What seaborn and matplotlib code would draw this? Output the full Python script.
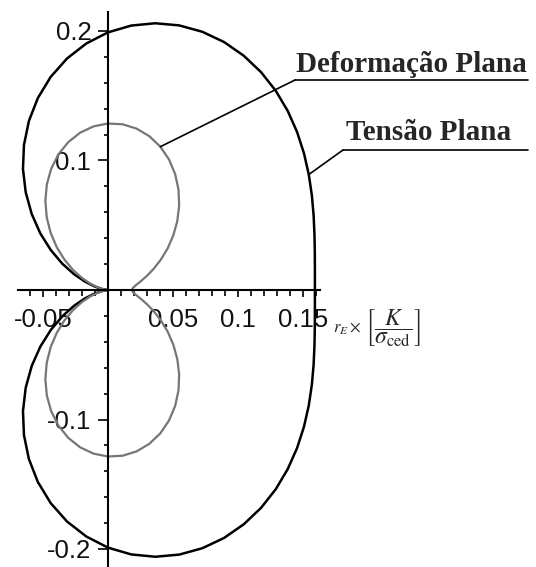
import numpy as np
import pandas as pd
import matplotlib
matplotlib.use("Agg")
import matplotlib.pyplot as plt
import seaborn as sns

# Polar angle of each sample (degrees), upper half of the crack-tip plastic zone
angle_deg = list(range(0, 181, 5))

# Plastic zone radius r_E in units of (K / sigma_ced)^2
r_tensao = [0.15915, 0.15976, 0.16155, 0.16444, 0.16832, 0.17302, 0.17834,
            0.18403, 0.18986, 0.19553, 0.20078, 0.20532, 0.20889, 0.21126,
            0.21220, 0.21154, 0.20916, 0.20497, 0.19894, 0.19110, 0.18153,
            0.17035, 0.15776, 0.14399, 0.12931, 0.11403, 0.09847, 0.08299,
            0.06794, 0.05366, 0.04050, 0.02878, 0.01876, 0.01071, 0.00481,
            0.00121, 0.0]
r_deformacao = [0.01840, 0.01927, 0.02186, 0.02608, 0.03181, 0.03886, 0.04701,
                0.05601, 0.06556, 0.07539, 0.08516, 0.09457, 0.10332, 0.11113,
                0.11775, 0.12295, 0.12656, 0.12846, 0.12857, 0.12686, 0.12337,
                0.11819, 0.11146, 0.10336, 0.09412, 0.08402, 0.07333, 0.06238,
                0.05147, 0.04093, 0.03107, 0.02218, 0.01452, 0.00831, 0.00374,
                0.00094, 0.0]

x_ticks = [-0.05, 0.05, 0.1, 0.15]
x_tick_labels = ["-0.05", "0.05", "0.1", "0.15"]
y_ticks = [-0.2, -0.1, 0.1, 0.2]
y_tick_labels = ["-0.2", "-0.1", "0.1", "0.2"]

label_deformacao = "Deformação Plana"
label_tensao = "Tensão Plana"


def closed_curve(angles, radii):
    """Upper half plus its mirror image below the crack plane."""
    th = np.radians(np.array(angles, dtype=float))
    r = np.array(radii, dtype=float)
    th_full = np.concatenate([th, 2 * np.pi - th[::-1][1:]])
    r_full = np.concatenate([r, r[::-1][1:]])
    return pd.DataFrame({"x": r_full * np.cos(th_full),
                         "y": r_full * np.sin(th_full)})


sns.set_style("white")
plt.rcParams["font.family"] = ["Liberation Sans", "DejaVu Sans"]
plt.rcParams["axes.unicode_minus"] = False
plt.rcParams["mathtext.fontset"] = "stix"

W, H = 536, 567
fig = plt.figure(figsize=(W / 100, H / 100), dpi=100)
ax = fig.add_axes([0, 0, 1, 1])

# data -> pixel mapping: origin at (108, 290), ~1300 px per unit
sx, sy = 1300.0, 1295.0
ox, oy = 108.0, 290.0
ax.set_xlim(-ox / sx, (W - ox) / sx)
ax.set_ylim(-(H - oy) / sy, oy / sy)

ts = closed_curve(angle_deg, r_tensao)
dp = closed_curve(angle_deg, r_deformacao)
sns.lineplot(data=ts, x="x", y="y", sort=False, estimator=None, ax=ax,
             color="black", lw=1.8)
sns.lineplot(data=dp, x="x", y="y", sort=False, estimator=None, ax=ax,
             color="#767676", lw=1.6)
ax.set_xlabel("")
ax.set_ylabel("")

# axes through the origin
for side in ("top", "right"):
    ax.spines[side].set_visible(False)
ax.spines["left"].set_position(("data", 0))
ax.spines["bottom"].set_position(("data", 0))
ax.spines["left"].set_bounds(-(H - oy) / sy, (oy - 12) / sy)
ax.spines["bottom"].set_bounds((18 - ox) / sx, 0.163)
for side in ("left", "bottom"):
    ax.spines[side].set_linewidth(1.5)
    ax.spines[side].set_color("black")

ax.set_xticks(x_ticks)
ax.set_xticklabels(x_tick_labels)
ax.set_yticks(y_ticks)
ax.set_yticklabels(y_tick_labels)
ax.set_xticks([v / 100 for v in range(-6, 17) if v % 5 != 0], minor=True)
ax.set_yticks([v / 100 for v in range(-20, 21, 2) if v % 10 != 0], minor=True)
ax.tick_params(axis="both", which="both", direction="out", color="black",
               bottom=True, left=True, top=False, right=False,
               width=1.2, labelsize=18.5, labelcolor="#111111")
ax.tick_params(axis="x", which="major", length=5, pad=8)
ax.tick_params(axis="x", which="minor", length=4)
ax.tick_params(axis="y", which="major", length=7, pad=5)
ax.tick_params(axis="y", which="minor", length=3)
ax.grid(False)


# callouts: underline + leader to the curve
def callout(text, text_x, base_y, line_x0, line_x1, line_y, idx, curve_r):
    th = np.radians(angle_deg[idx])
    px, py = curve_r[idx] * np.cos(th), curve_r[idx] * np.sin(th)
    fig.text(text_x / W, (H - base_y) / H, text, family="Liberation Serif",
             fontweight="bold", fontsize=21, ha="left", va="baseline")
    fig.add_artist(plt.Line2D([line_x0 / W, line_x1 / W],
                              [(H - line_y) / H, (H - line_y) / H],
                              transform=fig.transFigure, color="black", lw=1.2))
    ax.annotate("", xy=(px, py), xycoords="data",
                xytext=(line_x0, H - line_y), textcoords="figure pixels",
                arrowprops=dict(arrowstyle="-", color="black", lw=1.2,
                                shrinkA=0, shrinkB=0))


callout(label_deformacao, 296, 72, 295, 528, 80, 14, r_deformacao)
callout(label_tensao, 346, 140, 343, 528, 150, 6, r_tensao)

# axis quantity: r_E x [K / sigma_ced]
fig.text(333 / W, (H - 329) / H, r"$r_E\times$",
         fontsize=12, ha="left", va="center")
fig.text(365 / W, (H - 328) / H,
         r"$\left[\dfrac{K}{\sigma_{\mathrm{ced}}}\right]$",
         fontsize=17, ha="left", va="center")

fig.savefig("out.png", dpi=100)
